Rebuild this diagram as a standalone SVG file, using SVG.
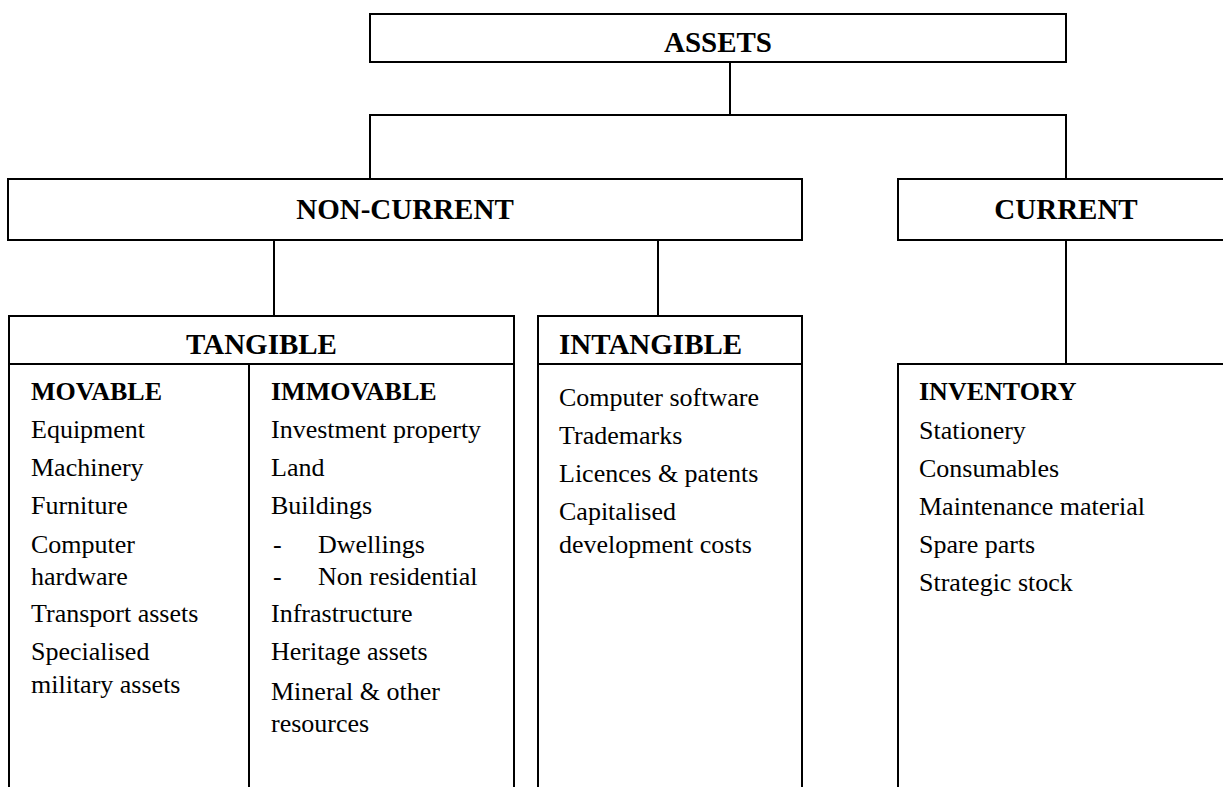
<svg xmlns="http://www.w3.org/2000/svg" width="1223" height="787" viewBox="0 0 1223 787">
<style>
.box{fill:#fff;stroke:#000;stroke-width:2}
.ln{fill:none;stroke:#000;stroke-width:2}
.h{font-family:"Liberation Serif","Times New Roman",serif;font-weight:bold;font-size:29px;fill:#000}
.sh{font-family:"Liberation Serif","Times New Roman",serif;font-weight:bold;font-size:26px;fill:#000}
.t{font-family:"Liberation Serif","Times New Roman",serif;font-size:26px;fill:#000}
</style>
<rect width="1223" height="787" fill="#fff"/>
<g id="connectors">
<line class="ln" x1="730" y1="62" x2="730" y2="115"/>
<line class="ln" x1="369" y1="115" x2="1067" y2="115"/>
<line class="ln" x1="370" y1="115" x2="370" y2="179"/>
<line class="ln" x1="1066" y1="115" x2="1066" y2="179"/>
<line class="ln" x1="274" y1="240" x2="274" y2="316"/>
<line class="ln" x1="658" y1="240" x2="658" y2="316"/>
<line class="ln" x1="1066" y1="240" x2="1066" y2="364"/>
</g>
<g id="assets">
<rect class="box" x="370" y="14" width="696" height="48"/>
<text class="h" x="718" y="52" text-anchor="middle">ASSETS</text>
</g>
<g id="non-current">
<rect class="box" x="8" y="179" width="794" height="61"/>
<text class="h" x="405" y="219" text-anchor="middle">NON-CURRENT</text>
</g>
<g id="current">
<rect class="box" x="898" y="179" width="340" height="61"/>
<text class="h" x="1066" y="219" text-anchor="middle">CURRENT</text>
</g>
<g id="tangible">
<rect class="box" x="9" y="316" width="505" height="500"/>
<line class="ln" x1="9" y1="364" x2="514" y2="364"/>
<line class="ln" x1="249" y1="364" x2="249" y2="800"/>
<text class="h" x="261.5" y="354" text-anchor="middle">TANGIBLE</text>
<text class="sh" x="31" y="400">MOVABLE</text>
<text class="t" x="31" y="438">Equipment</text>
<text class="t" x="31" y="476">Machinery</text>
<text class="t" x="31" y="514">Furniture</text>
<text class="t" x="31" y="553">Computer</text>
<text class="t" x="31" y="585">hardware</text>
<text class="t" x="31" y="622">Transport assets</text>
<text class="t" x="31" y="660">Specialised</text>
<text class="t" x="31" y="693">military assets</text>
<text class="sh" x="271" y="400">IMMOVABLE</text>
<text class="t" x="271" y="438">Investment property</text>
<text class="t" x="271" y="476">Land</text>
<text class="t" x="271" y="514">Buildings</text>
<text class="t" x="273" y="553">-</text>
<text class="t" x="318" y="553">Dwellings</text>
<text class="t" x="273" y="585">-</text>
<text class="t" x="318" y="585">Non residential</text>
<text class="t" x="271" y="622">Infrastructure</text>
<text class="t" x="271" y="660">Heritage assets</text>
<text class="t" x="271" y="700">Mineral &amp; other</text>
<text class="t" x="271" y="732">resources</text>
</g>
<g id="intangible">
<rect class="box" x="538" y="316" width="264" height="500"/>
<line class="ln" x1="538" y1="364" x2="802" y2="364"/>
<text class="h" x="559" y="354">INTANGIBLE</text>
<text class="t" x="559" y="406">Computer software</text>
<text class="t" x="559" y="444">Trademarks</text>
<text class="t" x="559" y="482">Licences &amp; patents</text>
<text class="t" x="559" y="520">Capitalised</text>
<text class="t" x="559" y="553">development costs</text>
</g>
<g id="inventory">
<rect class="box" x="898" y="364" width="340" height="450"/>
<text class="sh" x="919" y="400">INVENTORY</text>
<text class="t" x="919" y="439">Stationery</text>
<text class="t" x="919" y="477">Consumables</text>
<text class="t" x="919" y="515">Maintenance material</text>
<text class="t" x="919" y="553">Spare parts</text>
<text class="t" x="919" y="591">Strategic stock</text>
</g>
</svg>
